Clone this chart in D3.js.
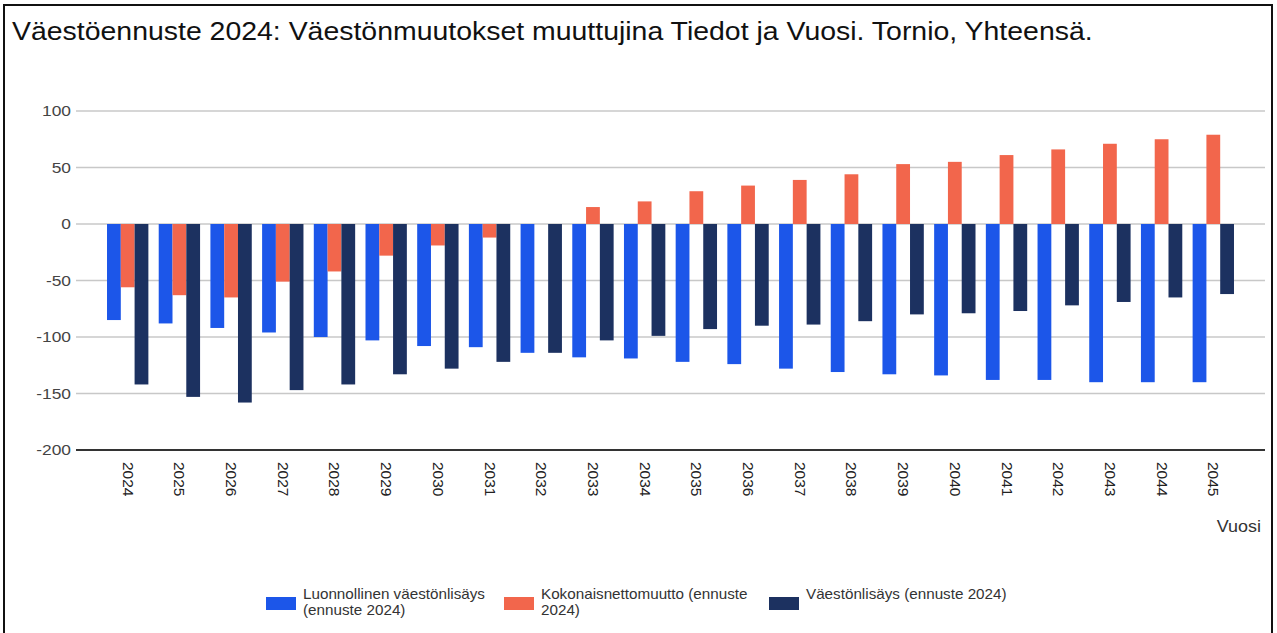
<!DOCTYPE html>
<html>
<head>
<meta charset="utf-8">
<script src="https://cdn.jsdelivr.net/npm/d3@7"></script>
<style>
  body { margin: 0; background: #fff; }
  text { font-family: "Liberation Sans", Arial, sans-serif; }
</style>
</head>
<body>
<div id="chart"></div>
<script>
var years = ["2024","2025","2026","2027","2028","2029","2030","2031","2032","2033","2034",
             "2035","2036","2037","2038","2039","2040","2041","2042","2043","2044","2045"];
var luonnollinen = [-85,-88,-92,-96,-100,-103,-108,-109,-114,-118,-119,
                    -122,-124,-128,-131,-133,-134,-138,-138,-140,-140,-140];
var nettomuutto = [-56,-63,-65,-51,-42,-28,-19,-12,0,15,20,
                   29,34,39,44,53,55,61,66,71,75,79];
var vaestonlisays = [-142,-153,-158,-147,-142,-133,-128,-122,-114,-103,-99,
                     -93,-90,-89,-86,-80,-79,-77,-72,-69,-65,-62];
var yTicks = [-200,-150,-100,-50,0,50,100];

var W = 1277, H = 633;
var margin = {top: 111, right: 12, bottom: 183, left: 76};
var width = W - margin.left - margin.right;
var height = H - margin.top - margin.bottom;

var colors = ["#1c56e9","#f2664c","#1c3160"];

// the reference picture is a bit wider than its glyphs, so stretch text
function stretch(sel, k) {
  sel.each(function() {
    var len = this.getComputedTextLength();
    d3.select(this).attr("textLength", len * k).attr("lengthAdjust", "spacingAndGlyphs");
  });
}

var svg = d3.select("#chart").append("svg")
    .attr("width", W).attr("height", H);

// frame
svg.append("rect")
    .attr("x", 4).attr("y", 5)
    .attr("width", 1268).attr("height", 640)
    .attr("fill", "none").attr("stroke", "#111").attr("stroke-width", 2);

svg.append("text")
    .attr("x", 12).attr("y", 40)
    .attr("font-size", 25.5)
    .attr("fill", "#111")
    .text("Väestöennuste 2024: Väestönmuutokset muuttujina Tiedot ja Vuosi. Tornio, Yhteensä.")
    .call(stretch, 1.115);

var g = svg.append("g")
    .attr("transform", "translate(" + margin.left + "," + margin.top + ")");

var x = d3.scalePoint().domain(years).range([0, width]).padding(1);
var step = x.step();
var inner = d3.scaleBand().domain([0,1,2]).range([-step*0.4, step*0.4]);
var y = d3.scaleLinear().domain([-200, 100]).range([height, 0]);

// gridlines
g.selectAll(".grid")
  .data(yTicks.filter(d => d != -200))
  .enter().append("line")
  .attr("x1", 0).attr("x2", width)
  .attr("y1", d => y(d)).attr("y2", d => y(d))
  .attr("stroke", "#c8c8c8").attr("stroke-width", 1.5);

var yAxis = g.append("g")
    .call(d3.axisLeft(y).tickValues(yTicks).tickSize(0).tickPadding(5).tickFormat(d => String(d)));
yAxis.select(".domain").remove();
yAxis.selectAll("text")
    .attr("font-size", 15.5).attr("fill", "#444")
    .style("font-family", "Liberation Sans, Arial, sans-serif")
    .call(stretch, 1.12);

var allSeries = [luonnollinen, nettomuutto, vaestonlisays];

allSeries.forEach(function(vals, s) {
  g.selectAll(".bar" + s)
    .data(vals)
    .enter().append("rect")
    .attr("x", (d, i) => x(years[i]) + inner(s))
    .attr("width", inner.bandwidth())
    .attr("y", d => y(Math.max(0, d)))
    .attr("height", d => Math.abs(y(d) - y(0)))
    .attr("fill", colors[s]);
});

// baseline at -200
g.append("line")
  .attr("x1", 0).attr("x2", width)
  .attr("y1", y(-200)).attr("y2", y(-200))
  .attr("stroke", "#333").attr("stroke-width", 2);

// x labels, rotated
g.selectAll(".xlab")
  .data(years)
  .enter().append("text")
  .attr("transform", d => "translate(" + (x(d) - 5) + "," + (height + 12) + ") rotate(90)")
  .attr("font-size", 15.5)
  .attr("fill", "#222")
  .text(d => d);

svg.append("text")
  .attr("x", 1261).attr("y", 532)
  .attr("text-anchor", "end")
  .attr("font-size", 16).attr("fill", "#333")
  .text("Vuosi")
  .call(stretch, 1.12);

// legend
var legendItems = [
  {x: 266, lines: ["Luonnollinen väestönlisäys", "(ennuste 2024)"]},
  {x: 504, lines: ["Kokonaisnettomuutto (ennuste", "2024)"]},
  {x: 769, lines: ["Väestönlisäys (ennuste 2024)"]}
];
var legend = svg.append("g");
legendItems.forEach(function(it, i) {
  legend.append("rect")
    .attr("x", it.x).attr("y", 597)
    .attr("width", 30).attr("height", 13)
    .attr("fill", colors[i]);
  it.lines.forEach(function(l, j) {
    legend.append("text")
      .attr("x", it.x + 37).attr("y", 599 + j*16)
      .attr("font-size", 14.5).attr("fill", "#333")
      .text(l)
      .call(stretch, 1.05);
  });
});
</script>
</body>
</html>
